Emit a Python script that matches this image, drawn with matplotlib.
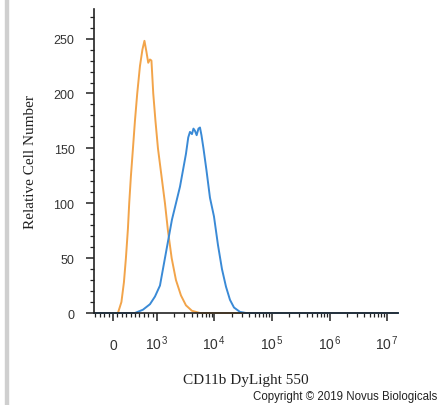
import matplotlib
matplotlib.use("Agg")
import matplotlib.pyplot as plt
from matplotlib.patches import Rectangle
from matplotlib.ticker import FixedLocator, FixedFormatter, MultipleLocator

plt.rcParams["font.family"] = ["Liberation Sans", "DejaVu Sans"]
plt.rcParams["mathtext.fontset"] = "custom"
plt.rcParams["mathtext.rm"] = "Liberation Sans"
plt.rcParams["mathtext.it"] = "Liberation Sans"

# isotype control (orange)
ctrl_x = [-430, 114, 193, 250, 295, 341, 370, 409, 455, 500, 552, 614, 670, 716,
          761, 802, 841, 875, 916, 966, 1041, 1198, 1378, 1553, 1802, 2140, 2614,
          3193, 4060, 5595, 1.55e7]
ctrl_y = [0, 0, 10, 28, 50, 77, 100, 125, 150, 175, 200, 225, 240, 248,
          238, 228, 231, 230, 200, 175, 150, 125, 100, 75, 50, 30, 16,
          7, 2, 0, 0]

# CD11b stained (blue)
cd11b_x = [-430, 500, 682, 841, 955, 1128, 1323, 1553, 1822, 2140, 2512, 2833, 3193,
           3501, 3750, 4060, 4313, 4580, 4900, 5270, 5595, 5940, 6435, 7260, 8350,
           9800, 11500, 13500, 15850, 18600, 21850, 27750, 35300, 1.55e7]
cd11b_y = [0, 0, 3, 8, 15, 25, 45, 65, 85, 100, 115, 130, 145,
           160, 165, 163, 168, 166, 162, 168, 169, 162, 150, 130, 105,
           88, 62, 40, 24, 12, 5, 1, 0, 0]

x_ticks = [0, 1e3, 1e4, 1e5, 1e6, 1e7]
x_labels = ["0", "$10^{\\,3}$", "$10^{\\,4}$", "$10^{\\,5}$", "$10^{\\,6}$", "$10^{\\,7}$"]

fig = plt.figure(figsize=(4.4, 4.06), dpi=100)
ax = fig.add_axes([0.2136, 0.2266, 0.6909, 0.7488])

ax.plot(ctrl_x, ctrl_y, color="#F2A44A", lw=1.4, clip_on=False)
ax.plot(cd11b_x, cd11b_y, color="#3A8AD6", lw=1.4, clip_on=False)

ax.set_xscale("symlog", linthresh=1000, linscale=0.689)
ax.set_xlim(-430, 1.55e7)
ax.set_ylim(0, 277)

ax.xaxis.set_major_locator(FixedLocator(x_ticks))
ax.xaxis.set_major_formatter(FixedFormatter(x_labels))
minors = list(range(-400, 1000, 100))
for d in range(3, 7):
    minors += [k * 10 ** d for k in range(2, 10)]
ax.xaxis.set_minor_locator(FixedLocator(minors))

ax.yaxis.set_major_locator(MultipleLocator(50))
ax.yaxis.set_minor_locator(MultipleLocator(10))

for s in ["top", "right"]:
    ax.spines[s].set_visible(False)
for s in ["left", "bottom"]:
    ax.spines[s].set_linewidth(1.2)
    ax.spines[s].set_color("#222222")

ax.tick_params(axis="both", which="major", direction="out", length=6, width=1.1,
               color="#222222", labelsize=9, labelcolor="#333333")
ax.tick_params(axis="both", which="minor", direction="out", length=3, width=0.9,
               color="#222222")
ax.tick_params(axis="y", which="major", pad=8)
ax.tick_params(axis="x", which="major", pad=20, labelsize=10)
for lab in ax.get_xticklabels():
    lab.set_verticalalignment("baseline")

ax.set_ylabel("Relative Cell Number", family=["Liberation Serif"], fontsize=11,
              color="#222222", labelpad=12)
ax.set_xlabel("CD11b DyLight 550", family=["Liberation Serif"], fontsize=11,
              color="#222222", labelpad=15)

fig.patches.append(Rectangle((5 / 440, 0), 3 / 440, 1, transform=fig.transFigure,
                             color="#cfcfcf", zorder=0))
fig.text(253 / 440, 0.022, "Copyright \u00a9 2019 Novus Biologicals", fontsize=8.3,
         color="#222222", ha="left", va="center")

fig.savefig("out.png", dpi=100)
